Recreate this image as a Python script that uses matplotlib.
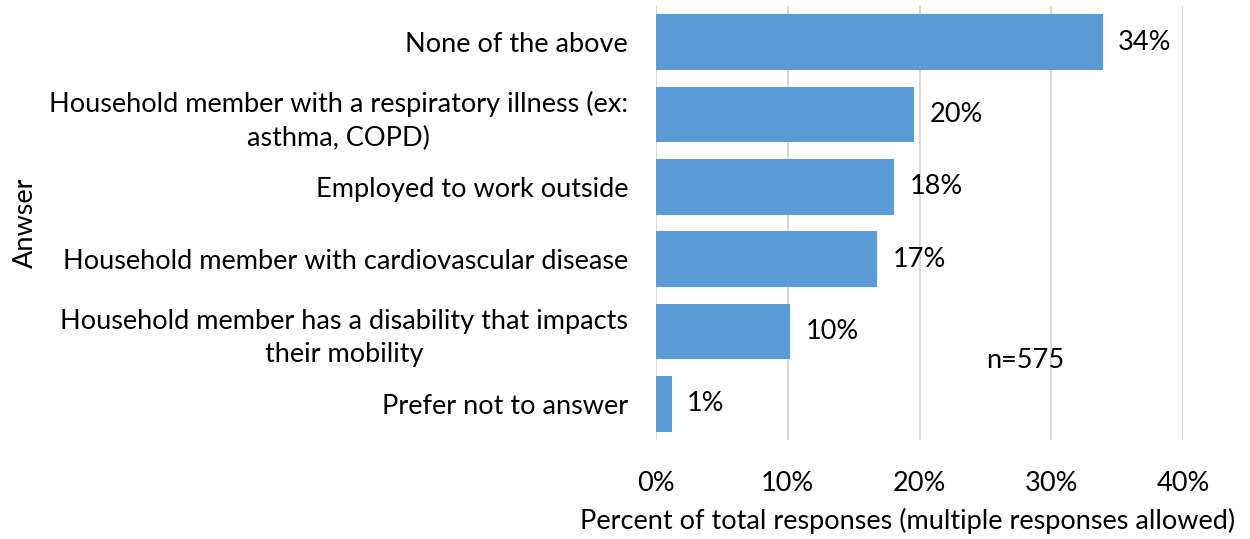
import matplotlib.pyplot as plt

categories = ["None of the above",
              "Household member with a respiratory illness (ex:\nasthma, COPD)",
              "Employed to work outside",
              "Household member with cardiovascular disease",
              "Household member has a disability that impacts\ntheir mobility",
              "Prefer not to answer"]
values = [33.9, 19.6, 18.1, 16.8, 10.2, 1.2]
labels = ["34%", "20%", "18%", "17%", "10%", "1%"]
ticks = [0, 10, 20, 30, 40]

plt.rcParams['font.family'] = ['Lato', 'DejaVu Sans']
fs = 19.5

fig = plt.figure(figsize=(12.5, 5.39), dpi=100)
ax = fig.add_axes([0.5248, 0.1837, 0.4216, 0.8053])

pos = list(range(len(categories)))
ax.barh(pos, values, height=0.77, color="#5B9BD5", zorder=2)
ax.set_ylim(len(categories) - 0.5, -0.5)
ax.set_xlim(0, 40)

for p, v, l in zip(pos, values, labels):
    ax.annotate(l, (v, p), xytext=(11, 0), textcoords="offset points",
                va="center", ha="left", fontsize=fs, color="#000000")

ax.text(28, 4.4, "n=575", fontsize=fs, ha="center", va="center")

ax.set_xticks(ticks)
ax.set_xticklabels([f"{t}%" for t in ticks], fontsize=fs)
ax.set_yticks(pos)
ax.set_yticklabels(categories, fontsize=fs, multialignment="center", linespacing=1.4)
ax.tick_params(length=0, axis="x", pad=22)
ax.tick_params(length=0, axis="y", pad=20)
ax.grid(axis="x", color="#D9D9D9", linewidth=1.5, zorder=0)
for s in ax.spines.values():
    s.set_visible(False)

fig.text(0.726, 0.033, "Percent of total responses (multiple responses allowed)",
         fontsize=fs, ha="center", va="center")
fig.text(0.02, 0.586, "Anwser", rotation=90, fontsize=fs, ha="center", va="center")

fig.savefig("out.png", dpi=100)
